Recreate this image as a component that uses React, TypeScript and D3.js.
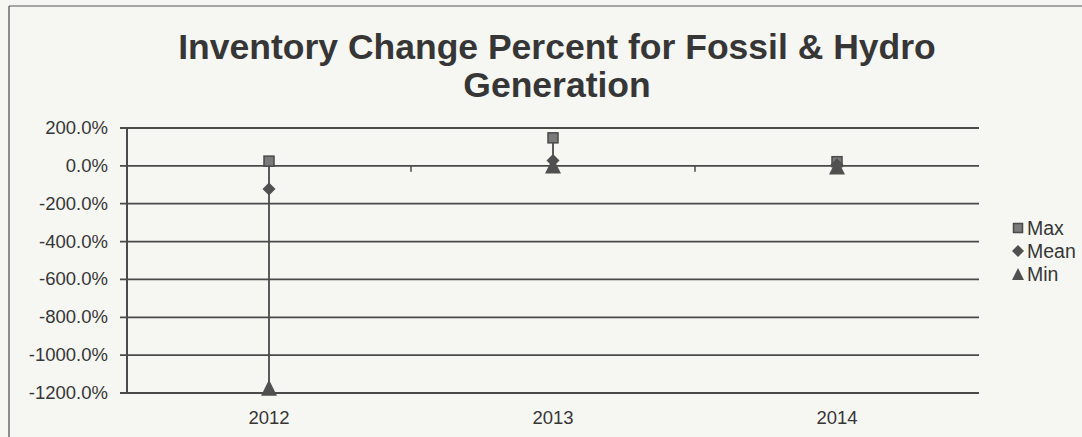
import React, { useEffect } from "react";
import * as d3 from "d3";

const years = ["2012", "2013", "2014"];
const maxVals = [0.25, 1.48, 0.22];
const meanVals = [-1.22, 0.28, 0.06];
const minVals = [-11.72, 0.02, -0.04];
const yTicks = [2, 0, -2, -4, -6, -8, -10, -12];
const legendLabels = ["Max", "Mean", "Min"];
const titleLines = ["Inventory Change Percent for Fossil & Hydro", "Generation"];

const W = 1082;
const H = 437;
const margin = { top: 128, right: 103, bottom: 44, left: 127 };

const ink = "#363636";
const grid = "#4a4a4a";
const font = "'Liberation Sans', Arial, sans-serif";

const pct = d3.formatLocale({
  decimal: ".",
  thousands: ",",
  grouping: [3],
  currency: ["$", ""],
  minus: "-",
}).format(".1%");

// excel style markers
function Marker({ kind, cx, cy, s }: { kind: string; cx: number; cy: number; s: number }) {
  if (kind === "Max") {
    return (
      <rect x={cx - s / 2} y={cy - s / 2} width={s} height={s}
        fill="#7a7a7a" stroke="#4a4a4a" strokeWidth={1.5} />
    );
  }
  const h = s / 2;
  if (kind === "Mean") {
    return (
      <path d={`M${cx},${cy - h}L${cx + h},${cy}L${cx},${cy + h}L${cx - h},${cy}Z`} fill="#505050" />
    );
  }
  return (
    <path d={`M${cx},${cy - h}L${cx + h},${cy + h}L${cx - h},${cy + h}Z`} fill="#505050" />
  );
}

export default function App() {
  useEffect(() => {
    document.body.style.margin = "0";
  }, []);

  const x = d3.scaleBand().domain(years).range([margin.left, W - margin.right]);
  const y = d3.scaleLinear().domain([-12, 2]).range([H - margin.bottom, margin.top]);
  const cx = (d: string) => (x(d) as number) + x.bandwidth() / 2;
  const y0 = y(0);

  return (
    <svg width={W} height={H} style={{ display: "block", background: "#f6f6f3" }}>
      {/* chart frame */}
      <line x1={9} x2={W} y1={6} y2={6} stroke="#8a8a8a" strokeWidth={1.5} />
      <line x1={9} x2={9} y1={6} y2={H} stroke="#6a6a6a" strokeWidth={1.5} />

      {/* title */}
      {titleLines.map((t, i) => (
        <text key={t} x={557} y={59 + i * 38} textAnchor="middle" fontFamily={font}
          fontWeight="bold" fontSize={35.5} fill={ink}>{t}</text>
      ))}

      {/* grid + y labels */}
      {yTicks.map(t => (
        <g key={t}>
          <line x1={margin.left - 7} x2={W - margin.right} y1={y(t)} y2={y(t)}
            stroke={grid} strokeWidth={1.8} />
          <text x={margin.left - 19} y={y(t) + 6} textAnchor="end" fontFamily={font}
            fontSize={18.5} fill={ink}>{pct(t)}</text>
        </g>
      ))}

      {/* y axis */}
      <line x1={margin.left} x2={margin.left} y1={y(2)} y2={y(-12)} stroke={grid} strokeWidth={2} />

      {/* category tick marks on the zero line */}
      {years.slice(0, -1).map(d => (
        <line key={d} x1={(x(d) as number) + x.bandwidth()} x2={(x(d) as number) + x.bandwidth()}
          y1={y0} y2={y0 + 6} stroke={grid} strokeWidth={1.5} />
      ))}

      {/* x labels */}
      {years.map(d => (
        <text key={d} x={cx(d)} y={H - 13} textAnchor="middle" fontFamily={font}
          fontSize={18.5} fill={ink}>{d}</text>
      ))}

      {/* high-low lines */}
      {years.map((d, i) => (
        <line key={d} x1={cx(d)} x2={cx(d)} y1={y(maxVals[i])} y2={y(minVals[i])}
          stroke="#4a4a4a" strokeWidth={1.8} />
      ))}

      {/* markers */}
      {years.map((d, i) => (
        <g key={d}>
          <Marker kind="Max" cx={cx(d)} cy={y(maxVals[i])} s={10} />
          <Marker kind="Mean" cx={cx(d)} cy={y(meanVals[i])} s={13} />
          <Marker kind="Min" cx={cx(d)} cy={y(minVals[i])} s={16} />
        </g>
      ))}

      {/* legend */}
      {legendLabels.map((l, i) => (
        <g key={l} transform={`translate(1018,${228 + i * 23})`}>
          <Marker kind={l} cx={0} cy={0} s={l === "Max" ? 9 : 12} />
          <text x={9} y={7} fontFamily={font} fontSize={19.5} fill={ink}>{l}</text>
        </g>
      ))}
    </svg>
  );
}
